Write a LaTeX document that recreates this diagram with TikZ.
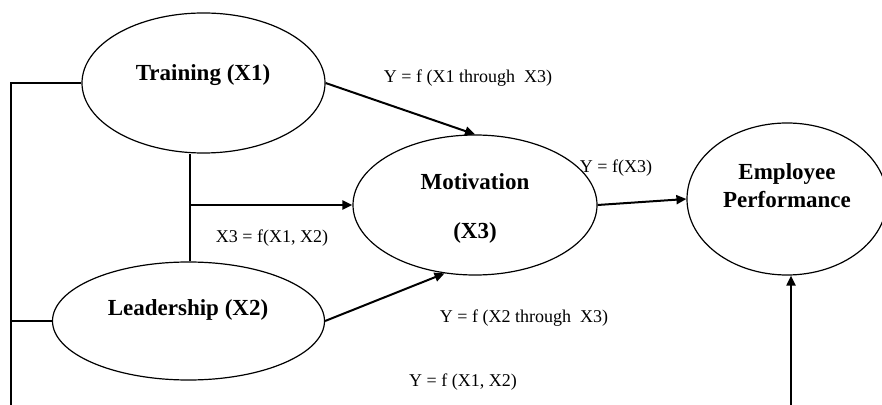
\documentclass[tikz,border=0pt]{standalone}
\usepackage{fontspec}
\setmainfont{Liberation Serif}
\usetikzlibrary{arrows.meta,shapes.geometric}

\tikzset{
  var/.style={draw, ellipse, inner sep=0pt, line width=0.6pt},
  ttl/.style={font=\bfseries\fontsize{11.5}{14}\selectfont, align=center},
  lbl/.style={font=\fontsize{9}{10}\selectfont},
  link/.style={line width=0.75pt},
  arr/.style={line width=1pt, -{Triangle[length=5pt,width=4.5pt]}}
}

\begin{document}
\begin{tikzpicture}[x=0.5pt,y=-0.5pt]
			\useasboundingbox (0,0) rectangle (882,405);
			
			%%%%% ellipses %%%%%
			\node[var, minimum width=121.5pt, minimum height=70pt] (tr) at (203.5,83) {};
			\node[var, minimum width=136pt, minimum height=59pt] (ld) at (188.5,321) {};
			\node[var, minimum width=122pt, minimum height=70pt] (mo) at (475,205) {};
			\node[var, minimum width=100pt, minimum height=76pt] (ep) at (787,199) {};
			
			\node[ttl] (trt) at (203,75) {Training (X1)};
			\node[ttl] (ldt) at (188,310) {Leadership (X2)};
			\node[ttl] (mot) at (475,182) {Motivation};
			\node[ttl] (mox) at (475,233) {(X3)};
			\node[ttl] (ept) at (787,186) {Employee\\Performance};
			
			%%%%% lines %%%%%
			\coordinate (bl) at (11,405);
			\coordinate (jn) at (190,205);
			\coordinate (eb) at (791,405);
			
			\draw[link] (tr.west) -| (bl);
			\draw[link] (ld.west) -- (ld.west -| bl);
			\draw[link] (ld.north -| jn) -- (tr.south -| jn);
			
			\draw[arr] (jn) -- (mo.west);
			\draw[arr] (tr.east) -- (mo.north);
			\draw[arr] (ld.east) -- (mo.-114);
			\draw[arr] (mo.east) -- (ep.west);
			\draw[arr] (eb) -- (eb |- ep.south);
			
			%%%%% labels %%%%%
			\node[lbl] (l1) at (468,78) {Y = f (X1 through\ \ X3)};
			\node[lbl] (l2) at (616,168) {Y = f(X3)};
			\node[lbl] (l3) at (272,238) {X3 = f(X1, X2)};
			\node[lbl] (l4) at (524,318) {Y = f (X2 through\ \ X3)};
			\node[lbl] (l5) at (463,382) {Y = f (X1, X2)};
			
		\end{tikzpicture}
\end{document}
